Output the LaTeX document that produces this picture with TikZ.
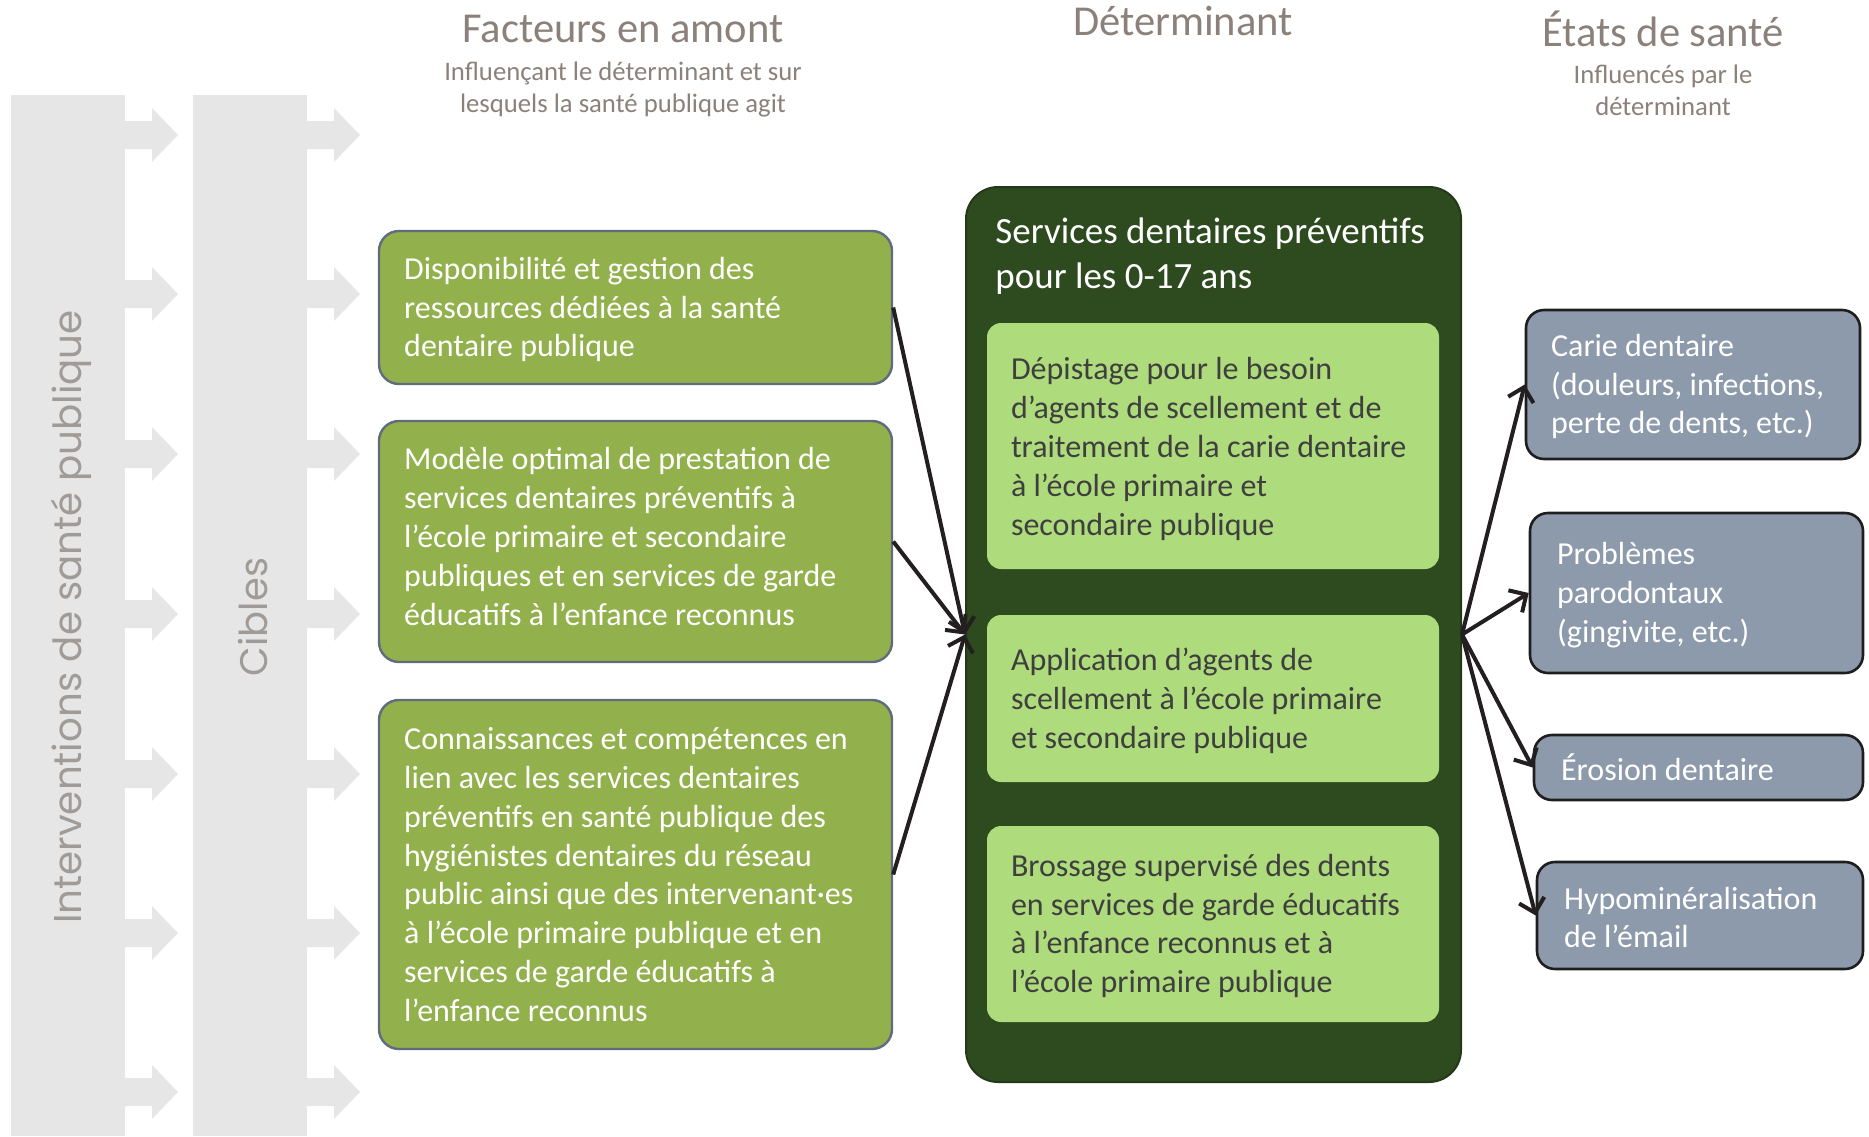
\documentclass[tikz,border=0pt]{standalone}
\usepackage{fontspec}
\setmainfont{Carlito}
\newfontfamily\geofont{Poppins}
\usetikzlibrary{arrows.meta,fit}
\definecolor{barg}{HTML}{E6E6E6}
\definecolor{upgreen}{HTML}{92B04B}
\definecolor{upborder}{HTML}{5E6C7E}
\definecolor{detgreen}{HTML}{2E4A1F}
\definecolor{detborder}{HTML}{25391A}
\definecolor{ingreen}{HTML}{AEDB7B}
\definecolor{intext}{HTML}{3F3F3F}
\definecolor{outfill}{HTML}{8D9AAB}
\definecolor{outborder}{HTML}{1E1E1E}
\definecolor{headcol}{HTML}{8B817A}
\definecolor{rotgray}{HTML}{A09B97}
\definecolor{arrcol}{HTML}{231F20}
\begin{document}
\begin{tikzpicture}[x=0.5pt,y=-0.5pt,
  upbox/.style={fill=upgreen, draw=upborder, line width=1.2pt, rounded corners=10pt, inner sep=0pt},
  detbox/.style={fill=detgreen, draw=detborder, line width=1pt, rounded corners=16pt, inner sep=0pt},
  inbox/.style={fill=ingreen, draw=none, rounded corners=7pt, inner sep=0pt},
  outbox/.style={fill=outfill, draw=outborder, line width=1.3pt, rounded corners=9pt, inner sep=0pt},
  bodytxt/.style={anchor=west, align=left, inner sep=0pt, font=\fontsize{16}{19.4}\selectfont},
  headtxt/.style={text=headcol, inner sep=0pt, font=\fontsize{21.3}{25}\selectfont},
  subtxt/.style={text=headcol, inner sep=0pt, align=center, font=\fontsize{13.35}{16}\selectfont},
  conn/.style={draw=arrcol, line width=2pt, -{Straight Barb[length=6.5pt,width=13pt,line width=2pt]}},
  rottxt/.style={text=rotgray, rotate=90, inner sep=0pt}
]
\useasboundingbox (0,0) rectangle (1869,1136);

% grey bars with arrows
\foreach \dx in {0,182}{
  \fill[barg] (11+\dx,95) rectangle (125+\dx,1136);
  \foreach \c in {135,294,454,614,774,933,1092}{
    \fill[barg] (124+\dx,\c-14) -- (152+\dx,\c-14) -- (152+\dx,\c-27) -- (178+\dx,\c)
      -- (152+\dx,\c+27) -- (152+\dx,\c+14) -- (124+\dx,\c+14) -- cycle;
  }
}
\node[rottxt, font=\geofont\fontsize{19.4}{24}\selectfont] (interv) at (71,617) {Interventions de santé publique};
\node[rottxt, font=\geofont\fontsize{19.2}{24}\selectfont] (cibles) at (253,617) {Cibles};

% headings
\node[headtxt] (h1) at (623,29) {Facteurs en amont};
\node[subtxt] (s1) at (623,90) {Influençant le déterminant et sur\\lesquels la santé publique agit};
\node[headtxt] (h2) at (1183,21) {Déterminant};
\node[headtxt] (h3) at (1663,29) {États de santé};
\node[subtxt] (s3) at (1663,90) {Influencés par le\\déterminant};

% upstream boxes
\node[upbox, fit={(379,231) (892,384)}] (f1) {};
\node[bodytxt, text=white] (f1t) at ([xshift=13pt,yshift=-1pt]f1.west) {Disponibilité et gestion des\\ressources dédiées à la santé\\dentaire publique};
\node[upbox, fit={(379,421) (892,662)}] (f2) {};
\node[bodytxt, text=white] (f2t) at ([xshift=13pt,yshift=2.5pt]f2.west) {Modèle optimal de prestation de\\services dentaires préventifs à\\l’école primaire et secondaire\\publiques et en services de garde\\éducatifs à l’enfance reconnus};
\node[upbox, fit={(379,700) (892,1049)}] (f3) {};
\node[bodytxt, text=white] (f3t) at ([xshift=13pt]f3.west) {Connaissances et compétences en\\lien avec les services dentaires\\préventifs en santé publique des\\hygiénistes dentaires du réseau\\public ainsi que des intervenant·es\\à l’école primaire publique et en\\services de garde éducatifs à\\l’enfance reconnus};

% determinant
\node[detbox, fit={(966,187) (1461,1082)}] (det) {};
\node[bodytxt, text=white, font=\fontsize{18.5}{22.6}\selectfont] (dett) at (995,256) {Services dentaires préventifs\\pour les 0-17 ans};
\node[inbox, fit={(987,323) (1439,569)}] (d1) {};
\node[bodytxt, text=intext] (d1t) at ([xshift=12pt,yshift=-1.5pt]d1.west) {Dépistage pour le besoin\\d’agents de scellement et de\\traitement de la carie dentaire\\à l’école primaire et\\secondaire publique};
\node[inbox, fit={(987,615) (1439,782)}] (d2) {};
\node[bodytxt, text=intext] (d2t) at ([xshift=12pt,yshift=-1pt]d2.west) {Application d’agents de\\scellement à l’école primaire\\et secondaire publique};
\node[inbox, fit={(987,826) (1439,1022)}] (d3) {};
\node[bodytxt, text=intext] (d3t) at ([xshift=12pt,yshift=-1pt]d3.west) {Brossage supervisé des dents\\en services de garde éducatifs\\à l’enfance reconnus et à\\l’école primaire publique};

% outcomes
\node[outbox, fit={(1526,310) (1860,459)}] (o1) {};
\node[bodytxt, text=white] (o1t) at ([xshift=13pt,yshift=-1pt]o1.west) {Carie dentaire\\(douleurs, infections,\\perte de dents, etc.)};
\node[outbox, fit={(1530,513) (1863,673)}] (o2) {};
\node[bodytxt, text=white] (o2t) at ([xshift=14pt,yshift=-1pt]o2.west) {Problèmes\\parodontaux\\(gingivite, etc.)};
\node[outbox, fit={(1534,735) (1863,800)}] (o3) {};
\node[bodytxt, text=white] (o3t) at ([xshift=14pt]o3.west) {Érosion dentaire};
\node[outbox, fit={(1537,862) (1863,969)}] (o4) {};
\node[bodytxt, text=white] (o4t) at ([xshift=14pt,yshift=-1pt]o4.west) {Hypominéralisation\\de l’émail};

% connectors
\draw[conn] (f1.east) -- (det.west);
\draw[conn] (f2.east) -- (det.west);
\draw[conn] (f3.east) -- (det.west);
\draw[conn] (det.east) -- (o1.west);
\draw[conn] (det.east) -- (o2.west);
\draw[conn] (det.east) -- (o3.west);
\draw[conn] (det.east) -- (o4.west);
\end{tikzpicture}
\end{document}
